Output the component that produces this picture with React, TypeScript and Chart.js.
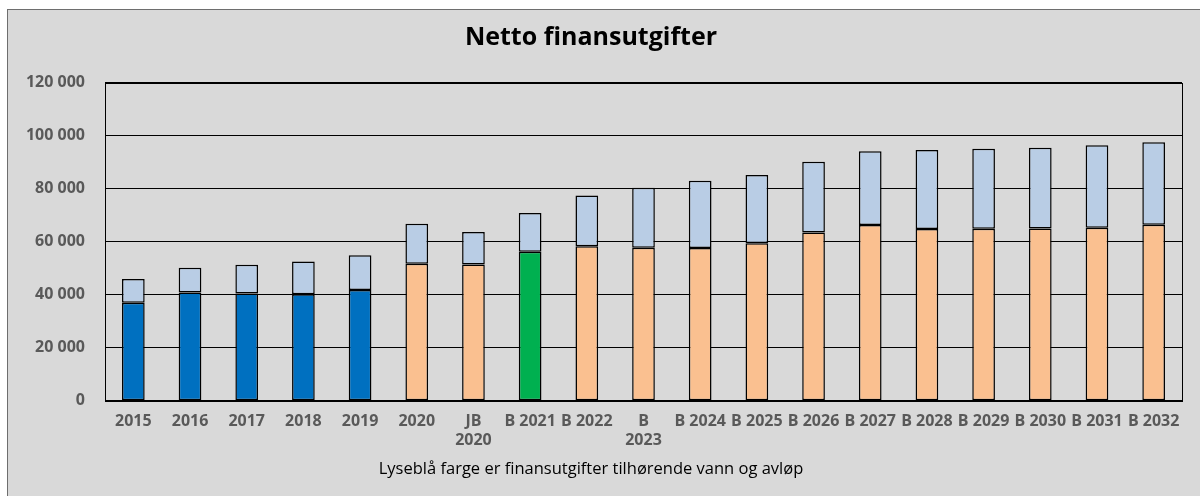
import React, { useEffect, useRef } from "react";
import { Chart, registerables } from "chart.js";

Chart.register(...registerables);

const categories: (string | string[])[] = [
  "2015", "2016", "2017", "2018", "2019", "2020", ["JB", "2020"], "B 2021", "B 2022",
  ["B", "2023"], "B 2024", "B 2025", "B 2026", "B 2027", "B 2028", "B 2029", "B 2030", "B 2031", "B 2032",
];

// kind of each bar: regnskap, budsjett/plan, current budget
const barKinds = [
  "regnskap", "regnskap", "regnskap", "regnskap", "regnskap", "plan", "plan", "gjeldende", "plan",
  "plan", "plan", "plan", "plan", "plan", "plan", "plan", "plan", "plan", "plan",
];

// net financial expenses excluding water & sewage
const kommuneValues = [
  37000, 40800, 40500, 40200, 41800, 51700, 51400, 56200, 58300,
  57700, 57600, 59400, 63500, 66300, 64800, 64900, 65000, 65300, 66400,
];

// net financial expenses belonging to water & sewage (light blue)
const vannAvlopValues = [
  8900, 9400, 10800, 12300, 13100, 15100, 12300, 14600, 19100,
  22700, 25400, 25800, 26700, 27800, 29800, 30200, 30500, 31100, 31100,
];

const yTicks = [0, 20000, 40000, 60000, 80000, 100000, 120000];

const titleText = "Netto finansutgifter";
const footnoteText = "Lyseblå farge er finansutgifter tilhørende vann og avløp";

const kindColor: Record<string, string> = {
  regnskap: "#0070C0",
  plan: "#FAC090",
  gjeldende: "#00B050",
};

const frameBorder = {
  id: "frameBorder",
  afterDatasetsDraw(chart: any) {
    const { ctx, chartArea } = chart;
    ctx.save();
    ctx.strokeStyle = "#000000";
    ctx.lineWidth = 1;
    ctx.strokeRect(
      Math.round(chartArea.left) + 0.5,
      Math.round(chartArea.top) + 0.5,
      Math.round(chartArea.right - chartArea.left),
      Math.round(chartArea.bottom - chartArea.top)
    );
    ctx.restore();
  },
};

export default function App() {
  const canvasRef = useRef<HTMLCanvasElement | null>(null);

  useEffect(() => {
    if (!canvasRef.current) return;
    const chart = new Chart(canvasRef.current, {
      type: "bar",
      data: {
        labels: categories,
        datasets: [
          {
            label: "Kommune",
            data: kommuneValues,
            backgroundColor: barKinds.map((k) => kindColor[k]),
            borderColor: "#000000",
            borderWidth: 1.5,
            borderSkipped: false,
            barPercentage: 0.4,
            categoryPercentage: 1,
          },
          {
            label: "Vann og avløp",
            data: vannAvlopValues,
            backgroundColor: "#B9CDE5",
            borderColor: "#000000",
            borderWidth: 1.5,
            borderSkipped: false,
            barPercentage: 0.4,
            categoryPercentage: 1,
          },
        ],
      },
      options: {
        animation: false,
        responsive: false,
        maintainAspectRatio: false,
        layout: { padding: { left: 0, right: 18, top: 0, bottom: 0 } },
        plugins: {
          legend: { display: false },
          tooltip: { enabled: false },
          title: {
            display: true,
            text: titleText,
            color: "#000000",
            font: { family: "'Open Sans'", size: 25, weight: "bold", lineHeight: 1.2 },
            padding: { top: 23, bottom: 29.7 },
          },
          subtitle: {
            display: true,
            position: "bottom",
            text: footnoteText,
            color: "#000000",
            font: { family: "'Open Sans'", size: 16.5, weight: "normal", lineHeight: 1.2 },
            padding: { top: 8.9, bottom: 16.6 },
          },
        },
        scales: {
          x: {
            stacked: true,
            grid: { display: false, drawTicks: false },
            border: { display: true, color: "#000000", width: 1 },
            ticks: {
              color: "#595959",
              font: { family: "'Open Sans'", size: 16, weight: "bold", lineHeight: 1.19 },
              padding: 11.5,
              maxRotation: 0,
              minRotation: 0,
              autoSkip: false,
            },
            afterFit: (scale: any) => {
              scale.height = 50;
            },
          },
          y: {
            stacked: true,
            min: 0,
            max: 120000,
            grid: { color: "#000000", lineWidth: 1, drawTicks: false },
            border: { display: true, color: "#000000", width: 1 },
            afterBuildTicks: (scale: any) => {
              scale.ticks = yTicks.map((v) => ({ value: v }));
            },
            ticks: {
              color: "#595959",
              font: { family: "'Open Sans'", size: 16, weight: "bold" },
              padding: 20,
              callback: (v: any) => Number(v).toLocaleString("en-US").replace(/,/g, " "),
            },
            afterFit: (scale: any) => {
              scale.width = 105;
            },
          },
        },
      },
      plugins: [frameBorder],
    });
    return () => chart.destroy();
  }, []);

  return (
    <div
      style={{
        position: "fixed",
        left: 0,
        top: 0,
        width: 1200,
        height: 496,
        overflow: "hidden",
        background: "#ffffff",
      }}
    >
      <div
        style={{
          position: "absolute",
          left: 7,
          top: 9,
          width: 1300,
          height: 600,
          background: "#D9D9D9",
          border: "1px solid #6e6e6e",
        }}
      />
      <canvas
        ref={canvasRef}
        width={1200}
        height={496}
        style={{ position: "absolute", left: 0, top: 0, width: 1200, height: 496 }}
      />
    </div>
  );
}
